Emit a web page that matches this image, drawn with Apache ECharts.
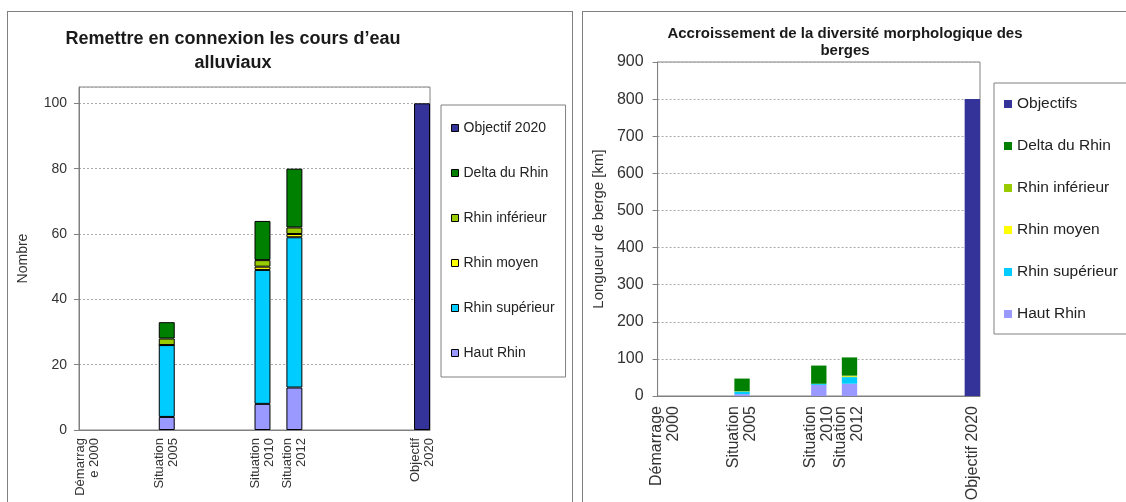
<!DOCTYPE html>
<html>
<head>
<meta charset="utf-8">
<script src="https://cdn.jsdelivr.net/npm/echarts@6/dist/echarts.min.js"></script>
<style>
  body { margin: 0; background: #fff; overflow: hidden; }
  .panel { position: absolute; border: 1px solid #808080; background: #fff; }
  #left { left: 7px; top: 11px; width: 564px; height: 500px; }
  #right { left: 582px; top: 11px; width: 600px; height: 500px; }
</style>
</head>
<body>
<div id="left" class="panel"></div>
<div id="right" class="panel"></div>
<script>
const _ = '-'

// gauche : nombre de cours d'eau reconnectés (un créneau par année, 2000 -> 2021)
const leftCategories = ['Démarrag\ne 2000', '', '', '', '', 'Situation\n2005', '', '', '', '', '',
  'Situation\n2010', '', 'Situation\n2012', '', '', '', '', '', '', '', 'Objectif\n2020']
const leftHautRhin = [_, _, _, _, _, 4, _, _, _, _, _, 8, _, 13, _, _, _, _, _, _, _, _]
const leftRhinSuperieur = [_, _, _, _, _, 22, _, _, _, _, _, 41, _, 46, _, _, _, _, _, _, _, _]
const leftRhinMoyen = [_, _, _, _, _, 0, _, _, _, _, _, 1, _, 1, _, _, _, _, _, _, _, _]
const leftRhinInferieur = [_, _, _, _, _, 2, _, _, _, _, _, 2, _, 2, _, _, _, _, _, _, _, _]
const leftDelta = [_, _, _, _, _, 5, _, _, _, _, _, 12, _, 18, _, _, _, _, _, _, _, _]
const leftObjectif = [_, _, _, _, _, _, _, _, _, _, _, _, _, _, _, _, _, _, _, _, _, 100]

// droite : longueur de berge [km] (2000 -> 2020)
const rightCategories = ['Démarrage\n2000', '', '', '', '', 'Situation\n2005', '', '', '', '',
  'Situation\n2010', '', 'Situation\n2012', '', '', '', '', '', '', '', 'Objectif 2020']
const rightHautRhin = [_, _, _, _, _, 5, _, _, _, _, 30, _, 33, _, _, _, _, _, _, _, _]
const rightRhinSuperieur = [_, _, _, _, _, 7, _, _, _, _, 3, _, 18, _, _, _, _, _, _, _, _]
const rightRhinMoyen = [_, _, _, _, _, 0, _, _, _, _, 0, _, 2, _, _, _, _, _, _, _, _]
const rightRhinInferieur = [_, _, _, _, _, 1, _, _, _, _, 0, _, 2, _, _, _, _, _, _, _, _]
const rightDelta = [_, _, _, _, _, 34, _, _, _, _, 49, _, 49, _, _, _, _, _, _, _, _]
const rightObjectif = [_, _, _, _, _, _, _, _, _, _, _, _, _, _, _, _, _, _, _, _, 800]

const colors = {
  haut: '#9999FF',
  sup: '#00CCFF',
  moyen: '#FFFF00',
  inf: '#99CC00',
  delta: '#008000',
  obj: '#333399',
}
const font = 'Liberation Sans, Arial, sans-serif'
const grey = '#808080'

function barSeries(name, data, color, border) {
  return {
    name,
    type: 'bar',
    stack: 'total',
    data,
    barCategoryGap: '0%',
    itemStyle: border
      ? { color, borderColor: '#000', borderWidth: 1 }
      : { color, borderWidth: 0 },
    emphasis: { disabled: true },
  }
}

// ---- graphique de gauche
const leftChart = echarts.init(document.getElementById('left'))
leftChart.setOption({
  animation: false,
  textStyle: { fontFamily: font },
  title: {
    text: 'Remettre en connexion les cours d\u2019eau\nalluviaux',
    left: 220,
    top: 10,
    textAlign: 'center',
    textStyle: { fontSize: 18, fontWeight: 'bold', color: '#1a1a1a', lineHeight: 24, fontFamily: font },
  },
  legend: {
    orient: 'vertical',
    left: 433,
    top: 93,
    padding: [16, 11, 17, 10],
    itemWidth: 7,
    itemHeight: 7,
    itemGap: 31,
    icon: 'rect',
    borderColor: grey,
    borderWidth: 1,
    itemStyle: { borderColor: '#000', borderWidth: 1 },
    textStyle: { fontSize: 14, color: '#222', fontFamily: font },
    data: ['Objectif 2020', 'Delta du Rhin', 'Rhin inférieur', 'Rhin moyen', 'Rhin supérieur', 'Haut Rhin'],
  },
  grid: {
    left: 71, top: 75, width: 351, height: 343,
    show: true, borderColor: grey, borderWidth: 1, containLabel: false,
  },
  xAxis: {
    type: 'category',
    data: leftCategories,
    axisLine: { lineStyle: { color: grey } },
    axisTick: { interval: 4, length: 5, lineStyle: { color: grey } },
    axisLabel: { interval: 0, rotate: 90, fontSize: 13, lineHeight: 14, color: '#333', margin: 8 },
  },
  yAxis: {
    type: 'value',
    min: 0,
    max: 105,
    interval: 20,
    name: 'Nombre',
    nameLocation: 'middle',
    nameGap: 49,
    nameTextStyle: { fontSize: 14, color: '#333' },
    axisLine: { show: true, lineStyle: { color: grey } },
    axisTick: { show: true, length: 5, lineStyle: { color: grey } },
    axisLabel: { fontSize: 14, color: '#333', margin: 12, showMaxLabel: false },
    splitLine: { lineStyle: { color: '#aaa', type: [2, 2] } },
  },
  series: [
    barSeries('Haut Rhin', leftHautRhin, colors.haut, true),
    barSeries('Rhin supérieur', leftRhinSuperieur, colors.sup, true),
    barSeries('Rhin moyen', leftRhinMoyen, colors.moyen, true),
    barSeries('Rhin inférieur', leftRhinInferieur, colors.inf, true),
    barSeries('Delta du Rhin', leftDelta, colors.delta, true),
    barSeries('Objectif 2020', leftObjectif, colors.obj, true),
  ],
})

// ---- graphique de droite
const rightChart = echarts.init(document.getElementById('right'))
rightChart.setOption({
  animation: false,
  textStyle: { fontFamily: font },
  title: {
    text: 'Accroissement de la diversité morphologique des\nberges',
    left: 257,
    top: 8,
    textAlign: 'center',
    textStyle: { fontSize: 15, fontWeight: 'bold', color: '#1a1a1a', lineHeight: 17, fontFamily: font },
  },
  legend: {
    orient: 'vertical',
    left: 411,
    top: 71,
    padding: [13, 40, 12, 10],
    itemWidth: 8,
    itemHeight: 8,
    itemGap: 26,
    icon: 'rect',
    borderColor: grey,
    borderWidth: 1,
    itemStyle: { borderWidth: 0 },
    textStyle: { fontSize: 15.5, color: '#222', fontFamily: font },
    data: ['Objectifs', 'Delta du Rhin', 'Rhin inférieur', 'Rhin moyen', 'Rhin supérieur', 'Haut Rhin'],
  },
  grid: {
    left: 74, top: 50, width: 323, height: 334,
    show: true, borderColor: grey, borderWidth: 1, containLabel: false,
  },
  xAxis: {
    type: 'category',
    data: rightCategories,
    axisLine: { lineStyle: { color: grey } },
    axisTick: { interval: 4, length: 5, lineStyle: { color: grey } },
    axisLabel: { interval: 0, rotate: 90, fontSize: 16, lineHeight: 17, color: '#333', margin: 10 },
  },
  yAxis: {
    type: 'value',
    min: 0,
    max: 900,
    interval: 100,
    name: 'Longueur de berge [km]',
    nameLocation: 'middle',
    nameGap: 41,
    nameTextStyle: { fontSize: 15, color: '#333' },
    axisLine: { show: true, lineStyle: { color: grey } },
    axisTick: { show: true, length: 5, lineStyle: { color: grey } },
    axisLabel: { fontSize: 16, color: '#333', margin: 14 },
    splitLine: { lineStyle: { color: '#aaa', type: [2, 2] } },
  },
  series: [
    barSeries('Haut Rhin', rightHautRhin, colors.haut, false),
    barSeries('Rhin supérieur', rightRhinSuperieur, colors.sup, false),
    barSeries('Rhin moyen', rightRhinMoyen, colors.moyen, false),
    barSeries('Rhin inférieur', rightRhinInferieur, colors.inf, false),
    barSeries('Delta du Rhin', rightDelta, colors.delta, false),
    barSeries('Objectifs', rightObjectif, colors.obj, false),
  ],
})
</script>
</body>
</html>
